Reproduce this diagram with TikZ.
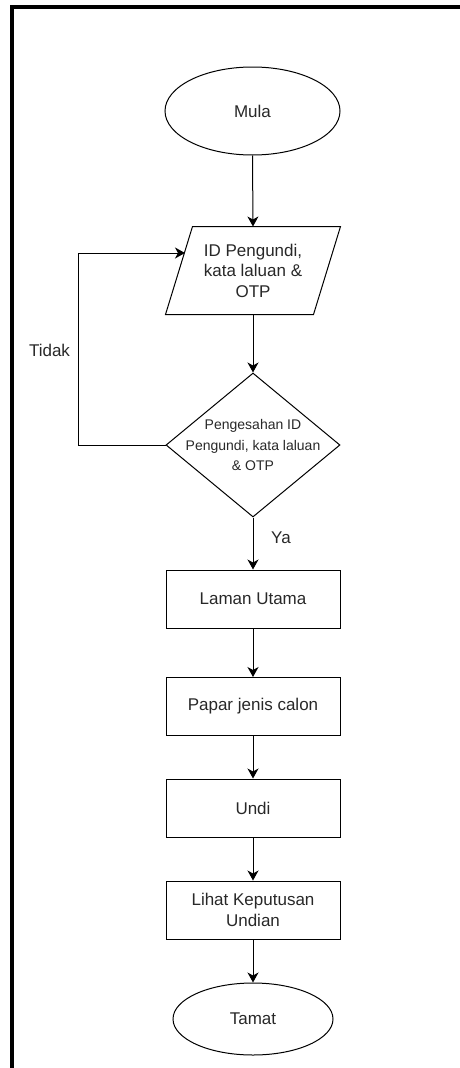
\documentclass[tikz,border=0pt]{standalone}
\usepackage{fontspec}
\setmainfont{Liberation Sans}
\usetikzlibrary{shapes.geometric,arrows.meta,calc}
\definecolor{txt}{RGB}{40,40,40}
\begin{document}
\begin{tikzpicture}[x=1pt,y=-1pt,
  line width=1pt,
  font=\fontsize{17}{20.5}\selectfont,
  every node/.style={text=txt},
  term/.style={ellipse,draw,inner sep=0pt},
  proc/.style={rectangle,draw,minimum width=174pt,minimum height=58pt,inner sep=0pt,align=center},
  dia/.style={diamond,draw,minimum width=174pt,minimum height=144pt,inner sep=0pt},
  dlabel/.style={align=center,font=\fontsize{14}{20.5}\selectfont,text=txt},
  arr/.style={-{Stealth[length=10pt,width=11pt,inset=3pt]}},
  lbl/.style={inner sep=0pt}]
\useasboundingbox (0,0) rectangle (460,1068);
\draw[line width=4pt] (460,7) -- (12,7) -- (12,1068);

\node[term,minimum width=175pt,minimum height=88pt] (mula) at (252.5,111) {Mula};

\node[inner sep=0pt,minimum width=174pt,minimum height=87pt,align=center] (inp) at (253,270.5) {ID Pengundi,\\kata laluan \&\\OTP};
\draw ($(inp.north west)+(27,0)$) -- (inp.north east) -- ($(inp.south east)+(-27,0)$) -- (inp.south west) -- cycle;
\coordinate (inpL) at (185,253);
\coordinate (loopx) at (78,0);

\node[dia,label={[dlabel]center:Pengesahan ID\\Pengundi, kata laluan\\\& OTP}] (chk) at (253,445) {};

\node[proc] (r1) at (253,599) {Laman Utama};
\node[proc] (r2) at (253,706.5) {Papar jenis calon};
\node[proc] (r3) at (253,808) {Undi};
\node[proc] (r4) at (253,910) {Lihat Keputusan\\Undian};
\node[term,minimum width=160pt,minimum height=72pt] (tamat) at (253,1019) {Tamat};

\node[lbl] (tidak) at (49.5,350) {Tidak};
\node[lbl] (ya) at (281,538) {Ya};

\draw[arr] (mula.south) -- (inp.north);
\draw[arr] (inp.south) -- (chk.north);
\draw[arr] (chk.south) -- (r1.north);
\draw[arr] (r1.south) -- (r2.north);
\draw[arr] (r2.south) -- (r3.north);
\draw[arr] (r3.south) -- (r4.north);
\draw[arr] (r4.south) -- (tamat.north);
\draw[arr] (chk.west) -- (chk.west -| loopx) |- (inpL);
\end{tikzpicture}
\end{document}
